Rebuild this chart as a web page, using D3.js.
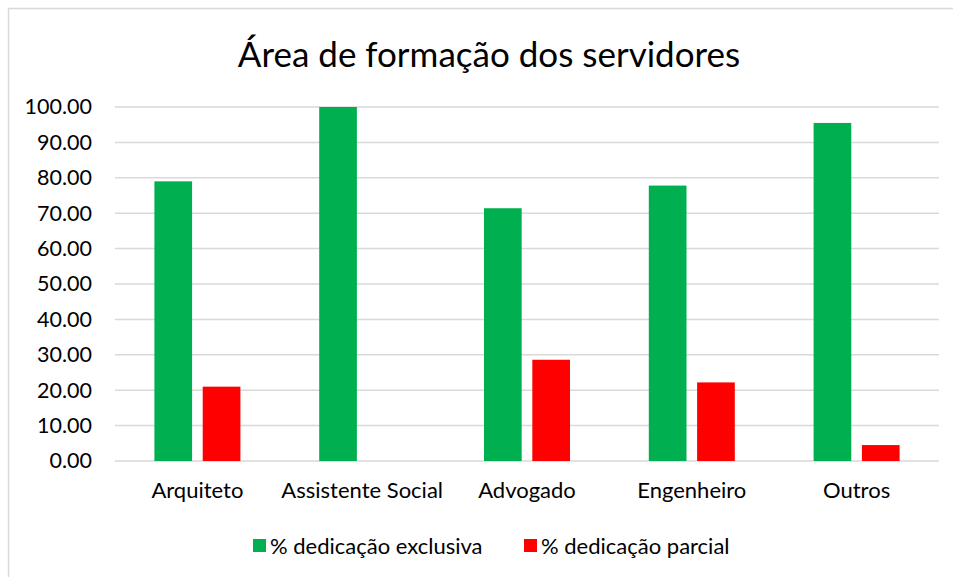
<!DOCTYPE html>
<html>
<head>
<meta charset="utf-8">
<script src="https://cdn.jsdelivr.net/npm/d3@7"></script>
<style>
  body { margin: 0; background: #fff; }
  svg text { font-family: Lato, "Open Sans", sans-serif; fill: #000; }
</style>
</head>
<body>
<div class="chart"></div>
<script>
var svgWidth = 953;
var svgHeight = 577;

// chart data
var categories = ["Arquiteto", "Assistente Social", "Advogado", "Engenheiro", "Outros"];
var seriesNames = ["% dedicação exclusiva", "% dedicação parcial"];
var exclusiva = [79.0, 100.0, 71.4, 77.8, 95.5];
var parcial = [21.0, 0.0, 28.6, 22.2, 4.5];
var yTicks = [0, 10, 20, 30, 40, 50, 60, 70, 80, 90, 100];
var colors = ["#00b050", "#ff0000"];

var margin = { top: 107, right: 14, bottom: 116, left: 115 };
var width = svgWidth - margin.left - margin.right;
var height = svgHeight - margin.top - margin.bottom;

var svg = d3.select(".chart")
  .append("svg")
  .attr("width", svgWidth)
  .attr("height", svgHeight);

// outer frame
svg.append("rect")
  .attr("x", 8.5)
  .attr("y", 8.5)
  .attr("width", svgWidth + 10)
  .attr("height", svgHeight + 10)
  .attr("fill", "none")
  .attr("stroke", "#d9d9d9")
  .attr("stroke-width", 1.5);

// title
svg.append("text")
  .attr("x", 489)
  .attr("y", 67)
  .attr("text-anchor", "middle")
  .style("font-size", "35px")
  .text("Área de formação dos servidores");

var chartGroup = svg.append("g")
  .attr("transform", `translate(${margin.left}, ${margin.top})`);

var x0 = d3.scaleBand()
  .domain(categories)
  .range([0, width])
  .padding(0);

var groupWidth = 86;

var x1 = d3.scaleBand()
  .domain(seriesNames)
  .range([-groupWidth / 2, groupWidth / 2])
  .paddingInner(0.22);

var y = d3.scaleLinear()
  .domain([0, 100])
  .range([height, 0]);

// gridlines
chartGroup.append("g")
  .selectAll("line")
  .data(yTicks)
  .enter()
  .append("line")
  .attr("x1", 0)
  .attr("x2", width)
  .attr("y1", d => y(d))
  .attr("y2", d => y(d))
  .attr("stroke", "#d9d9d9")
  .attr("stroke-width", 1.5);

// y axis labels
var leftAxis = d3.axisLeft(y)
  .tickValues(yTicks)
  .tickFormat(d3.format(".2f"))
  .tickSize(0)
  .tickPadding(23);

chartGroup.append("g")
  .call(leftAxis)
  .call(g => g.select(".domain").remove())
  .selectAll("text")
  .style("font-size", "21.5px")
  .attr("font-family", null);

// x axis labels
var bottomAxis = d3.axisBottom(x0)
  .tickSize(0)
  .tickPadding(21);

chartGroup.append("g")
  .attr("transform", `translate(0, ${height})`)
  .call(bottomAxis)
  .call(g => g.select(".domain").remove())
  .selectAll("text")
  .style("font-size", "22px")
  .attr("font-family", null);

// bars
var rows = categories.map((c, i) => ({ cat: c, values: [exclusiva[i], parcial[i]] }));

var groups = chartGroup.selectAll(".bar-group")
  .data(rows)
  .enter()
  .append("g")
  .attr("class", "bar-group")
  .attr("transform", d => `translate(${x0(d.cat) + x0.bandwidth() / 2}, 0)`);

groups.selectAll("rect")
  .data(d => d.values.map((v, j) => ({ name: seriesNames[j], value: v, color: colors[j] })))
  .enter()
  .append("rect")
  .attr("x", d => x1(d.name))
  .attr("width", x1.bandwidth())
  .attr("y", d => y(d.value))
  .attr("height", d => height - y(d.value))
  .attr("fill", d => d.color);

// legend
var legendItems = [
  { name: seriesNames[0], color: colors[0], x: 253 },
  { name: seriesNames[1], color: colors[1], x: 524 }
];

var legend = svg.append("g");

var items = legend.selectAll("g")
  .data(legendItems)
  .enter()
  .append("g")
  .attr("transform", d => `translate(${d.x}, 546)`);

items.append("rect")
  .attr("x", 0)
  .attr("y", -7)
  .attr("width", 13)
  .attr("height", 13)
  .attr("fill", d => d.color);

items.append("text")
  .attr("x", 17)
  .attr("y", 7.5)
  .style("font-size", "22px")
  .text(d => d.name);
</script>
</body>
</html>
